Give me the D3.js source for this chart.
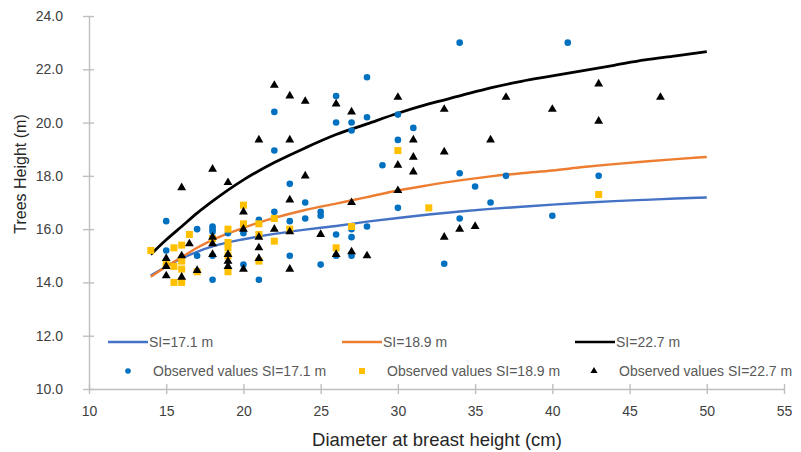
<!DOCTYPE html>
<html>
<head>
<meta charset="utf-8">
<script src="https://cdn.jsdelivr.net/npm/d3@7"></script>
<style>
  body { margin: 0; background: #fff; }
  svg { display: block; font-family: "Liberation Sans", Arial, sans-serif; }
</style>
</head>
<body>
<div id="chart"></div>
<script>
// model curves at fixed diameters
const curveD = [14, 15, 16, 17, 18, 20, 22, 24, 26, 28, 30, 32, 34, 36, 38, 40, 42, 44, 46, 48, 50];
const curveSI171 = [14.26, 14.6, 14.9, 15.15, 15.35, 15.62, 15.82, 15.98, 16.12, 16.28, 16.42, 16.55, 16.66, 16.76, 16.84, 16.92, 16.99, 17.05, 17.1, 17.15, 17.19];
const curveSI189 = [14.21, 14.6, 14.95, 15.3, 15.6, 16.05, 16.42, 16.72, 16.96, 17.2, 17.45, 17.65, 17.83, 17.98, 18.1, 18.2, 18.33, 18.44, 18.54, 18.63, 18.71];
const curveSI227 = [15.05, 15.6, 16.1, 16.6, 17.05, 17.85, 18.5, 19.05, 19.55, 19.95, 20.35, 20.7, 21.0, 21.3, 21.55, 21.75, 21.95, 22.15, 22.35, 22.5, 22.66];

// observed trees [dbh, height]
const obs171 = [[15,16.3],[15,15.2],[17,16.0],[17,15.0],[18,16.1],[18,16.0],[18,15.9],[18,15.0],[18,14.1],[19,15.85],[20,15.85],[20,14.67],[21,16.35],[21,14.1],[22,20.4],[22,18.95],[22,16.65],[23,17.7],[23,16.3],[23,15.0],[24,17.0],[24,16.4],[25,16.65],[25,16.5],[25,14.67],[26,21.0],[26,20.0],[26,15.8],[26,15.0],[27,20.0],[27,19.7],[27,16.0],[27,15.7],[27,15.0],[28,21.7],[28,20.2],[28,16.1],[29,18.4],[30,20.3],[30,19.35],[30,16.8],[31,19.8],[33,14.7],[34,23.0],[34,18.1],[34,16.4],[35,17.6],[36,17.0],[37,18.0],[40,16.5],[41,23.0],[43,18.0]];
const obs189 = [[14,15.2],[15,14.67],[15.5,15.3],[15.5,14.6],[15.5,14.0],[16,15.4],[16,14.8],[16,14.5],[16,14.0],[16.5,15.8],[17,14.4],[18,15.65],[19,16.0],[19,15.5],[19,15.3],[19,15.0],[19,14.4],[20,16.9],[20,16.2],[21,16.2],[21,15.8],[21,14.8],[22,16.4],[22,15.55],[23,16.0],[26,15.3],[27,16.1],[30,18.95],[32,16.8],[43,17.3]];
const obs227 = [[15,14.9],[15,14.6],[15,14.25],[16,17.56],[16,15.0],[16,14.2],[16.5,15.45],[17,14.45],[18,18.25],[18,15.7],[18,15.45],[18,15.05],[19,17.75],[19,15.05],[19,14.8],[19,14.6],[20,16.65],[20,16.0],[20,14.5],[21,19.35],[21,15.7],[21,15.3],[21,14.9],[22,21.4],[22,16.0],[23,21.0],[23,19.35],[23,17.1],[23,15.9],[23,14.5],[24,20.8],[24,18.0],[25,15.8],[26,20.7],[26,15.05],[27,20.4],[27,17.0],[27,15.15],[28,15.0],[30,20.95],[30,18.4],[30,17.45],[31,19.35],[31,18.7],[31,18.15],[33,20.5],[33,18.9],[33,15.7],[34,16.0],[35,16.1],[36,19.35],[37,20.95],[40,20.5],[43,21.45],[43,20.05],[47,20.95]];

const xTicks = [10, 15, 20, 25, 30, 35, 40, 45, 50, 55];
const yTicks = [10, 12, 14, 16, 18, 20, 22, 24];
const lineNames = ["SI=17.1 m", "SI=18.9 m", "SI=22.7 m"];
const obsNames = ["Observed values SI=17.1 m", "Observed values SI=18.9 m", "Observed values SI=22.7 m"];

const width = 801, height = 452;
const margin = { top: 16, right: 17, bottom: 63, left: 89 };

const svg = d3.select("#chart").append("svg")
    .attr("width", width)
    .attr("height", height);

const x = d3.scaleLinear().domain([10, 55]).range([margin.left, width - margin.right]);
const y = d3.scaleLinear().domain([10, 24]).range([height - margin.bottom, margin.top]);

const axisColor = "#bfbfbf";

// y axis with cross ticks
const gy = svg.append("g")
    .attr("transform", `translate(${margin.left},0)`)
    .call(d3.axisLeft(y).tickValues(yTicks).tickFormat(d3.format(".1f")).tickSize(6).tickSizeOuter(0).tickPadding(20));
gy.selectAll(".tick line").attr("x1", 5);

// x axis with cross ticks
const gx = svg.append("g")
    .attr("transform", `translate(0,${height - margin.bottom})`)
    .call(d3.axisBottom(x).tickValues(xTicks).tickSize(5).tickSizeOuter(0).tickPadding(12));
gx.selectAll(".tick line").attr("y1", -5);

[gx, gy].forEach(g => {
    g.select(".domain").attr("stroke", axisColor).attr("stroke-width", 1.4);
    g.selectAll(".tick line").attr("stroke", axisColor).attr("stroke-width", 1.4);
    g.selectAll(".tick text").attr("fill", "#404040").style("font-size", "14px");
});

// axis titles
svg.append("text")
    .attr("x", 437)
    .attr("y", 446)
    .attr("text-anchor", "middle")
    .attr("fill", "#262626")
    .style("font-size", "18.5px")
    .text("Diameter at breast height (cm)");

svg.append("text")
    .attr("transform", "translate(26,174) rotate(-90)")
    .attr("text-anchor", "middle")
    .attr("fill", "#262626")
    .style("font-size", "16px")
    .text("Trees Height (m)");

// model lines
const line = d3.line()
    .x(d => x(d[0]))
    .y(d => y(d[1]))
    .curve(d3.curveMonotoneX);

const curves = [
    { vals: curveSI171, color: "#4472c4", w: 2.4 },
    { vals: curveSI189, color: "#ed7d31", w: 2.4 },
    { vals: curveSI227, color: "#000000", w: 2.8 }
];

curves.forEach(c => {
    svg.append("path")
        .datum(curveD.map((d, i) => [d, c.vals[i]]))
        .attr("fill", "none")
        .attr("stroke", c.color)
        .attr("stroke-width", c.w)
        .attr("d", line);
});

// observed points
svg.append("g").selectAll("circle")
    .data(obs171)
    .enter()
    .append("circle")
    .attr("cx", d => x(d[0]))
    .attr("cy", d => y(d[1]))
    .attr("r", 3.3)
    .attr("fill", "#0070c0");

svg.append("g").selectAll("rect")
    .data(obs189)
    .enter()
    .append("rect")
    .attr("x", d => x(d[0]) - 3.5)
    .attr("y", d => y(d[1]) - 3.5)
    .attr("width", 7)
    .attr("height", 7)
    .attr("fill", "#ffc000");

const tri = d3.symbol().type(d3.symbolTriangle).size(34);
svg.append("g").selectAll("path")
    .data(obs227)
    .enter()
    .append("path")
    .attr("transform", d => `translate(${x(d[0])},${y(d[1])})`)
    .attr("d", tri)
    .attr("fill", "#000");

// legend
const legend = svg.append("g").style("font-size", "14px").attr("fill", "#595959");
const lineLeg = [108, 342, 575];
const row1 = 342, row2 = 371;

curves.forEach((c, i) => {
    legend.append("line")
        .attr("x1", lineLeg[i]).attr("x2", lineLeg[i] + 40)
        .attr("y1", row1).attr("y2", row1)
        .attr("stroke", c.color).attr("stroke-width", 2.4);
    legend.append("text")
        .attr("x", lineLeg[i] + 41).attr("y", row1 + 5)
        .text(lineNames[i]);
});

const obsLeg = [128, 362, 594];
legend.append("circle").attr("cx", obsLeg[0]).attr("cy", row2).attr("r", 2.8).attr("fill", "#0070c0");
legend.append("rect").attr("x", obsLeg[1] - 3).attr("y", row2 - 3).attr("width", 6).attr("height", 6).attr("fill", "#ffc000");
legend.append("path").attr("transform", `translate(${obsLeg[2]},${row2})`)
    .attr("d", d3.symbol().type(d3.symbolTriangle).size(22)).attr("fill", "#000");

obsNames.forEach((n, i) => {
    legend.append("text")
        .attr("x", obsLeg[i] + 25).attr("y", row2 + 5)
        .text(n);
});
</script>
</body>
</html>
